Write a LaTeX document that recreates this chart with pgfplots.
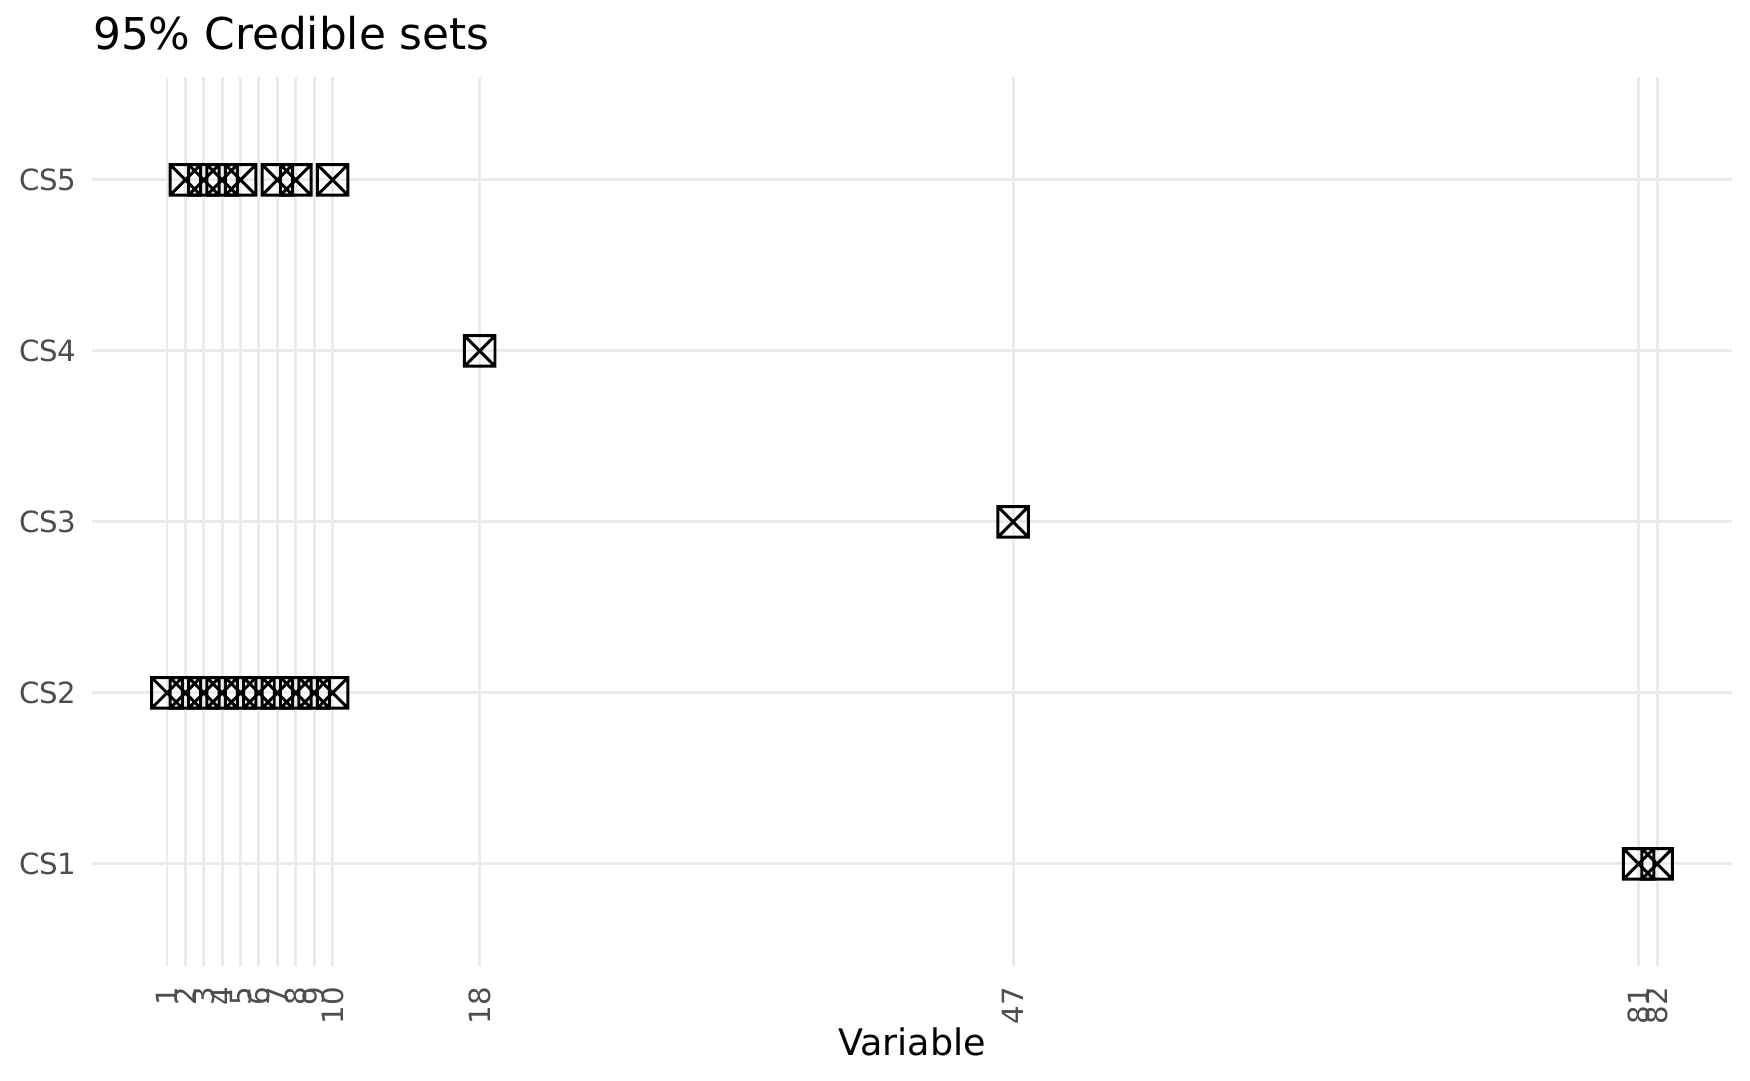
\documentclass[border=0pt]{standalone}
\usepackage{fontspec}
\setmainfont{DejaVu Sans}
\usepackage{pgfplots}
\pgfplotsset{compat=1.18}
\definecolor{gridgray}{HTML}{EBEBEB}
\definecolor{tickgray}{HTML}{4D4D4D}
\pgfdeclareplotmark{boxcross}{%
  \pgfpathrectangle{\pgfqpoint{-\pgfplotmarksize}{-\pgfplotmarksize}}{\pgfqpoint{2\pgfplotmarksize}{2\pgfplotmarksize}}%
  \pgfpathmoveto{\pgfqpoint{-\pgfplotmarksize}{-\pgfplotmarksize}}%
  \pgfpathlineto{\pgfqpoint{\pgfplotmarksize}{\pgfplotmarksize}}%
  \pgfpathmoveto{\pgfqpoint{-\pgfplotmarksize}{\pgfplotmarksize}}%
  \pgfpathlineto{\pgfqpoint{\pgfplotmarksize}{-\pgfplotmarksize}}%
  \pgfusepathqstroke}
\begin{document}
\begin{tikzpicture}
\path[use as bounding box] (-27.86pt,-34.5pt) rectangle (499.25pt,291.1pt);
\begin{axis}[
  at={(0,0)}, anchor=south west,
  scale only axis, width=493.7pt, height=267.8pt,
  xmin=-3.05, xmax=86.05, ymin=0.4, ymax=5.6,
  clip=false,
  axis line style={draw=none},
  major tick length=0pt, tick style={draw=none},
  grid=major,
  major grid style={color=gridgray, line width=0.9pt},
  xtick={1,2,3,4,5,6,7,8,9,10,18,47,81,82},
  ytick={1,2,3,4,5},
  yticklabels={CS1,CS2,CS3,CS4,CS5},
  /pgf/number format/assume math mode=true,
  xticklabel style={yshift=-6pt, rotate=90, anchor=east, inner sep=0pt, font=\fontsize{8.8}{10}\selectfont, text=tickgray},
  yticklabel style={anchor=east, inner sep=0pt, xshift=-4.6pt, font=\fontsize{8.8}{10}\selectfont, text=tickgray},
  title={95\% Credible sets},
  every axis title/.style={at={(rel axis cs:0,1)}, anchor=base west, inner sep=0pt, yshift=8.5pt, font=\fontsize{13.2}{15}\selectfont},
  xlabel={Variable},
  xlabel style={at={(axis description cs:0.5,0)}, anchor=base, inner sep=0pt, yshift=-26.7pt, font=\fontsize{11}{13}\selectfont},
]
\addplot[only marks, mark=boxcross, mark size=4.6pt, mark options={line width=0.9pt, draw=black}] coordinates {
 (81,1) (82,1)
 (1,2) (2,2) (3,2) (4,2) (5,2) (6,2) (7,2) (8,2) (9,2) (10,2)
 (47,3)
 (18,4)
 (2,5) (3,5) (4,5) (5,5) (7,5) (8,5) (10,5)
};
\end{axis}
\end{tikzpicture}
\end{document}
